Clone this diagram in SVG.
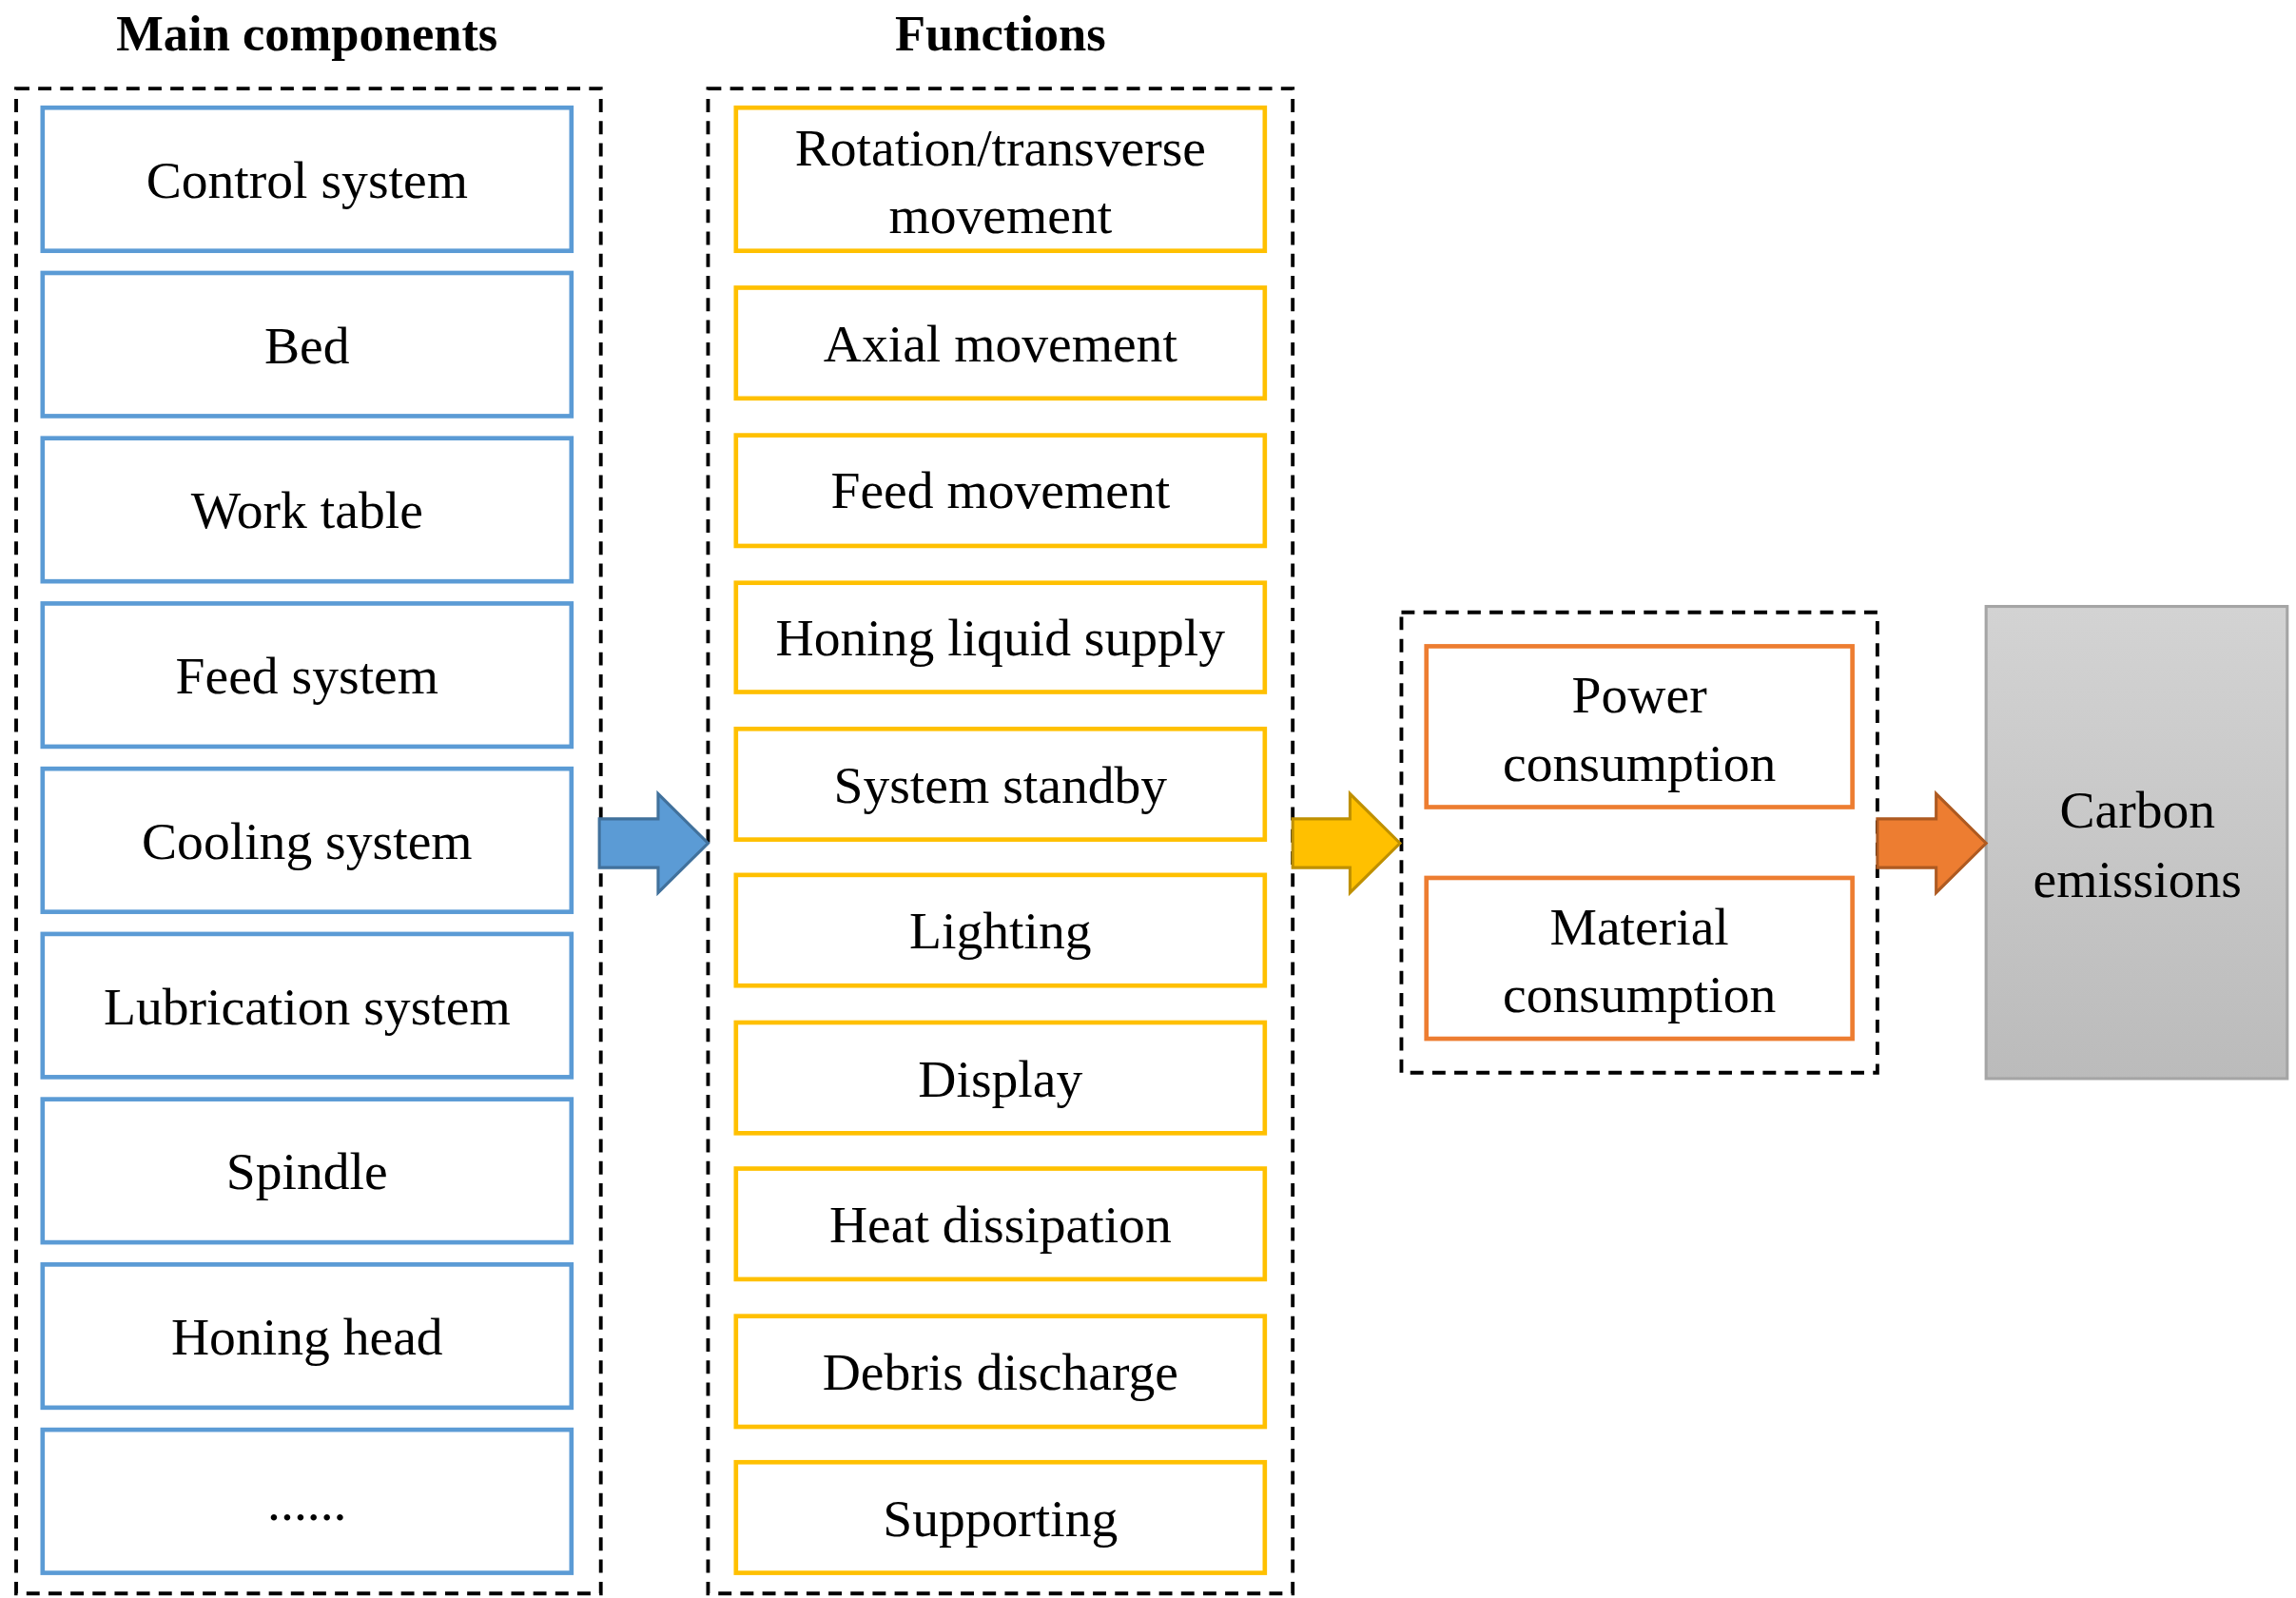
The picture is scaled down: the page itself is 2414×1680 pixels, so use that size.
<svg xmlns="http://www.w3.org/2000/svg" width="2414" height="1680" viewBox="0 0 2414 1680">
<defs>
<linearGradient id="g" x1="0" y1="0" x2="0" y2="1"><stop offset="0" stop-color="#D3D3D3"/><stop offset="1" stop-color="#BBBBBB"/></linearGradient>
<style>
text{font-family:"Liberation Serif","Times New Roman",serif;font-size:36px;text-anchor:middle;fill:#000}
.t{font-weight:bold;font-size:34px}
.d{fill:none;stroke:#000;stroke-width:2.5;stroke-dasharray:9,6}
.b rect{fill:#fff;stroke:#5B9BD5;stroke-width:3}
.y rect{fill:#fff;stroke:#FFC000;stroke-width:3}
.o rect{fill:#fff;stroke:#ED7D31;stroke-width:3}
</style>
</defs>
<rect width="2414" height="1680" fill="#fff"/>
<g transform="scale(1.5445 1.5512)">
<text class="t" x="209" y="34">Main components</text>
<text class="t" x="681" y="34">Functions</text>
<rect class="d" x="11" y="60" width="398" height="1020"/>
<rect class="d" x="482" y="60" width="398" height="1020"/>
<rect class="d" x="954" y="415" width="324" height="312"/>
<g class="b">
<g id="c1"><rect x="29" y="73" width="360" height="97"/><text x="209" y="134">Control system</text></g>
<g id="c2"><rect x="29" y="185" width="360" height="97"/><text x="209" y="246">Bed</text></g>
<g id="c3"><rect x="29" y="297" width="360" height="97"/><text x="209" y="358">Work table</text></g>
<g id="c4"><rect x="29" y="409" width="360" height="97"/><text x="209" y="470">Feed system</text></g>
<g id="c5"><rect x="29" y="521" width="360" height="97"/><text x="209" y="582">Cooling system</text></g>
<g id="c6"><rect x="29" y="633" width="360" height="97"/><text x="209" y="694">Lubrication system</text></g>
<g id="c7"><rect x="29" y="745" width="360" height="97"/><text x="209" y="806">Spindle</text></g>
<g id="c8"><rect x="29" y="857" width="360" height="97"/><text x="209" y="918">Honing head</text></g>
<g id="c9"><rect x="29" y="969" width="360" height="97"/><text x="209" y="1030">......</text></g>
</g>
<g class="y">
<g id="f1"><rect x="501" y="73" width="360" height="97"/><text x="681" y="112">Rotation/transverse</text><text x="681" y="158">movement</text></g>
<g id="f2"><rect x="501" y="195" width="360" height="75"/><text x="681" y="245">Axial movement</text></g>
<g id="f3"><rect x="501" y="295" width="360" height="75"/><text x="681" y="344">Feed movement</text></g>
<g id="f4"><rect x="501" y="395" width="360" height="74"/><text x="681" y="444">Honing liquid supply</text></g>
<g id="f5"><rect x="501" y="494" width="360" height="75"/><text x="681" y="544">System standby</text></g>
<g id="f6"><rect x="501" y="593" width="360" height="75"/><text x="681" y="643">Lighting</text></g>
<g id="f7"><rect x="501" y="693" width="360" height="75"/><text x="681" y="743">Display</text></g>
<g id="f8"><rect x="501" y="792" width="360" height="75"/><text x="681" y="842">Heat dissipation</text></g>
<g id="f9"><rect x="501" y="892" width="360" height="75"/><text x="681" y="942">Debris discharge</text></g>
<g id="f10"><rect x="501" y="991" width="360" height="75"/><text x="681" y="1041">Supporting</text></g>
</g>
<g class="o">
<g id="p1"><rect x="971" y="438" width="290" height="109"/><text x="1116" y="483">Power</text><text x="1116" y="529">consumption</text></g>
<g id="p2"><rect x="971" y="595" width="290" height="109"/><text x="1116" y="640">Material</text><text x="1116" y="686">consumption</text></g>
</g>
<g id="carbon"><rect x="1352" y="411" width="205" height="320" fill="url(#g)" stroke="#A5A5A5" stroke-width="2"/><text x="1455" y="561">Carbon</text><text x="1455" y="608">emissions</text></g>
<g id="connectors" stroke-width="2">
<path d="M408,555H448V538L482,571.5L448,605V588H408Z" fill="#5B9BD5" stroke="#41719C"/>
<path d="M880,555H919V538L953,571.5L919,605V588H880Z" fill="#FFC000" stroke="#BF9000"/>
<path d="M1278,555H1318V538L1352,571.5L1318,605V588H1278Z" fill="#ED7D31" stroke="#AE5A21"/>
</g>
</g>
</svg>
